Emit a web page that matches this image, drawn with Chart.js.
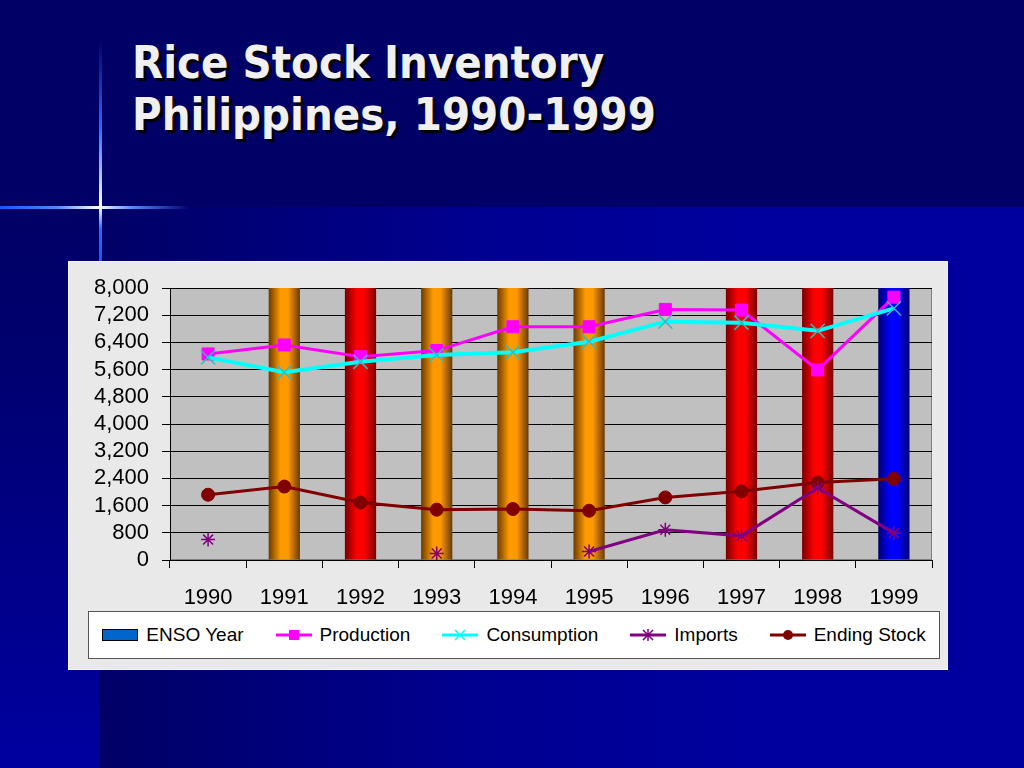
<!DOCTYPE html>
<html>
<head>
<meta charset="utf-8">
<title>Rice Stock Inventory</title>
<script src="https://cdn.jsdelivr.net/npm/chart.js@4.4.0/dist/chart.umd.min.js"></script>
<style>
  html, body { margin: 0; padding: 0; }
  body { width: 1024px; height: 768px; position: relative; overflow: hidden; background: #000066; font-family: 'Liberation Sans', Arial, sans-serif; }
  .bg-main { position: absolute; left: 100px; top: 207px; width: 924px; height: 561px; background: linear-gradient(to right, #000066 0%, #000090 40%, #00009e 70%, #00009e 100%); }
  .bg-left { position: absolute; left: 0; top: 207px; width: 100px; height: 561px; background: linear-gradient(to bottom, #000066 0%, #00006e 25%, #0000a0 100%); }
  .streak-h { position: absolute; left: 0; top: 206px; width: 190px; height: 3px; background: linear-gradient(to right, #1a55ff 0%, #4d88ff 30%, #ffffff 52%, #4d88ff 70%, rgba(26,85,255,0) 100%); }
  .streak-v { position: absolute; left: 99px; top: 40px; width: 3px; height: 222px; background: linear-gradient(to bottom, rgba(26,85,255,0) 0%, #2d6bff 40%, #ffffff 75%, #2d6bff 85%, #1a55ff 100%); }
  .title { position: absolute; left: 132px; top: 37px; color: #f0f0f0; font-family: 'DejaVu Sans Condensed', 'DejaVu Sans', sans-serif; font-weight: bold; font-size: 45px; line-height: 52px; text-shadow: 3px 3px 0 #000; white-space: nowrap; }
  .panel { position: absolute; left: 68px; top: 261px; width: 878px; height: 407px; background: #e9e9e9; border: 1px solid #f6f6f6; }
  #chart { position: absolute; left: 68px; top: 261px; }
  .legend { position: absolute; left: 88px; top: 611px; width: 850px; height: 46px; background: #fff; border: 1px solid #555; display: flex; align-items: center; justify-content: center; }
  .legend-item { display: flex; align-items: center; margin: 0 16px; font-size: 19px; color: #000; white-space: nowrap; }
  .legend-item canvas { margin-right: 8px; }
</style>
</head>
<body>
<div class="bg-main"></div>
<div class="bg-left"></div>
<div class="streak-h"></div>
<div class="streak-v"></div>
<div class="title">Rice Stock Inventory<br>Philippines, 1990-1999</div>
<div class="panel"></div>
<canvas id="chart" width="880" height="352"></canvas>
<div class="legend" id="legend"></div>

<script>
var years = ['1990', '1991', '1992', '1993', '1994', '1995', '1996', '1997', '1998', '1999'];
var ensoYear = [null, 8000, 8000, 8000, 8000, 8000, null, 8000, 8000, 8000];
var ensoPhase = ['', 'orange', 'red', 'orange', 'orange', 'orange', '', 'red', 'red', 'blue'];
var production = [6060, 6325, 5980, 6160, 6860, 6860, 7370, 7350, 5590, 7730];
var consumption = [5960, 5520, 5830, 6030, 6110, 6420, 7010, 6980, 6740, 7400];
var imports = [600, null, null, 190, null, 250, 890, 710, 2120, 790];
var endingStock = [1920, 2160, 1690, 1480, 1500, 1450, 1840, 2020, 2280, 2390];
var yMin = 0;
var yMax = 8000;
var yStep = 800;

var barShades = {
  orange: ['#6a3a00', '#ff9900'],
  red: ['#780000', '#ff0000'],
  blue: ['#000070', '#0000ff']
};
var barPct = 0.41;

function barFill(context) {
  var shade = barShades[ensoPhase[context.dataIndex]];
  if (!shade) return 'rgba(0,0,0,0)';
  var chart = context.chart;
  if (!chart.chartArea || !chart.scales.x) return shade[1];
  var x = chart.scales.x.getPixelForValue(context.dataIndex);
  var half = chart.scales.x.width / years.length * barPct / 2;
  var g = chart.ctx.createLinearGradient(x - half, 0, x + half, 0);
  g.addColorStop(0, shade[0]);
  g.addColorStop(0.38, shade[1]);
  g.addColorStop(0.62, shade[1]);
  g.addColorStop(1, shade[0]);
  return g;
}

var plotBackground = {
  id: 'plotBackground',
  beforeDraw: function (chart) {
    var a = chart.chartArea;
    var ctx = chart.ctx;
    ctx.save();
    ctx.fillStyle = '#c0c0c0';
    ctx.fillRect(a.left, a.top, a.right - a.left, a.bottom - a.top);
    ctx.strokeStyle = '#808080';
    ctx.lineWidth = 1;
    ctx.strokeRect(a.left + 0.5, a.top + 0.5, a.right - a.left - 1, a.bottom - a.top - 1);
    ctx.restore();
  }
};

var chart = new Chart(document.getElementById('chart'), {
  type: 'bar',
  data: {
    labels: years,
    datasets: [
      {
        type: 'bar',
        label: 'ENSO Year',
        data: ensoYear,
        backgroundColor: barFill,
        borderWidth: 0,
        categoryPercentage: 1,
        barPercentage: barPct,
        order: 10
      },
      {
        type: 'line',
        label: 'Production',
        data: production,
        borderColor: '#ff00ff',
        backgroundColor: '#ff00ff',
        borderWidth: 3,
        pointStyle: 'rect',
        pointRadius: 8.5,
        pointBorderWidth: 1,
        pointBorderColor: '#ff00ff',
        pointBackgroundColor: '#ff00ff',
        order: 2
      },
      {
        type: 'line',
        label: 'Consumption',
        data: consumption,
        borderColor: '#00ffff',
        backgroundColor: '#00ffff',
        borderWidth: 4,
        pointStyle: 'crossRot',
        pointRadius: 10,
        pointBorderWidth: 1.5,
        pointBorderColor: '#33bbbb',
        order: 1
      },
      {
        type: 'line',
        label: 'Imports',
        data: imports,
        spanGaps: false,
        borderColor: '#800080',
        backgroundColor: '#800080',
        borderWidth: 3,
        pointStyle: 'star',
        pointRadius: 7,
        pointBorderWidth: 1.5,
        pointBorderColor: '#800080',
        order: 3
      },
      {
        type: 'line',
        label: 'Ending Stock',
        data: endingStock,
        borderColor: '#800000',
        backgroundColor: '#800000',
        borderWidth: 3,
        pointStyle: 'circle',
        pointRadius: 6.5,
        pointBorderWidth: 1,
        pointBorderColor: '#800000',
        pointBackgroundColor: '#800000',
        order: 4
      }
    ]
  },
  options: {
    responsive: false,
    animation: false,
    events: [],
    layout: { padding: { left: 0, right: 16, top: 27, bottom: 6 } },
    plugins: {
      legend: { display: false },
      tooltip: { enabled: false }
    },
    scales: {
      x: {
        offset: true,
        afterFit: function (scale) { scale.height = 47; },
        grid: { offset: true, drawOnChartArea: false, drawTicks: true, tickLength: 8, color: '#000' },
        border: { color: '#000', width: 1 },
        ticks: { color: '#000', padding: 17, font: { family: "'Liberation Sans', Arial, sans-serif", size: 22 } }
      },
      y: {
        min: yMin,
        max: yMax,
        afterFit: function (scale) { scale.width = 102; },
        grid: { color: '#000', tickLength: 8, lineWidth: 1 },
        border: { color: '#000', width: 1 },
        ticks: {
          stepSize: yStep,
          autoSkip: false,
          color: '#000',
          padding: 13,
          font: { family: "'Liberation Sans', Arial, sans-serif", size: 22, lineHeight: 1 },
          callback: function (value) { return value.toLocaleString('en-US'); }
        }
      }
    }
  },
  plugins: [plotBackground]
});

// legend built as html so the framed box matches the slide
function drawIcon(cv, ds) {
  var c = cv.getContext('2d');
  var w = cv.width, h = cv.height, cy = h / 2, cx = w / 2;
  if (ds.type === 'bar') {
    c.fillStyle = '#0066cc';
    c.fillRect(0.5, cy - 6, w - 1, 12);
    c.strokeStyle = '#000';
    c.lineWidth = 1;
    c.strokeRect(0.5, cy - 6 + 0.5, w - 1, 11);
    return;
  }
  c.strokeStyle = ds.borderColor;
  c.lineWidth = 3;
  c.beginPath();
  c.moveTo(0, cy);
  c.lineTo(w, cy);
  c.stroke();
  c.fillStyle = ds.borderColor;
  c.lineWidth = 1.5;
  var r;
  if (ds.pointStyle === 'rect') {
    c.fillRect(cx - 5, cy - 5, 10, 10);
  } else if (ds.pointStyle === 'circle') {
    c.beginPath();
    c.arc(cx, cy, 5, 0, Math.PI * 2);
    c.fill();
  } else if (ds.pointStyle === 'crossRot') {
    r = 5;
    c.beginPath();
    c.moveTo(cx - r, cy - r); c.lineTo(cx + r, cy + r);
    c.moveTo(cx - r, cy + r); c.lineTo(cx + r, cy - r);
    c.stroke();
  } else if (ds.pointStyle === 'star') {
    r = 5;
    c.beginPath();
    c.moveTo(cx, cy - r - 1); c.lineTo(cx, cy + r + 1);
    c.moveTo(cx - r, cy - r); c.lineTo(cx + r, cy + r);
    c.moveTo(cx - r, cy + r); c.lineTo(cx + r, cy - r);
    c.stroke();
  }
}

var legendEl = document.getElementById('legend');
chart.data.datasets.forEach(function (ds) {
  var item = document.createElement('div');
  item.className = 'legend-item';
  var cv = document.createElement('canvas');
  cv.width = 36;
  cv.height = 16;
  drawIcon(cv, ds);
  item.appendChild(cv);
  var span = document.createElement('span');
  span.textContent = ds.label;
  item.appendChild(span);
  legendEl.appendChild(item);
});
</script>
</body>
</html>
